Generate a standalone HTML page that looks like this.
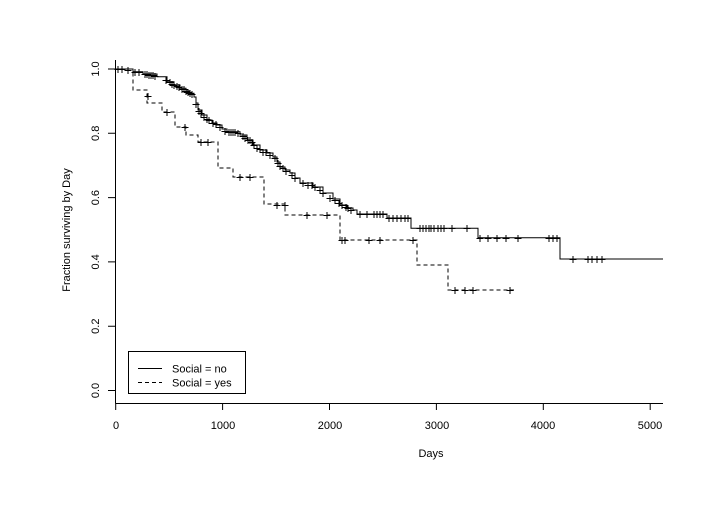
<!DOCTYPE html>
<html><head><style>
html,body{margin:0;padding:0;background:#fff;}
svg{display:block;font-family:"Liberation Sans",sans-serif;}
</style></head><body>
<svg width="723" height="522" viewBox="0 0 723 522" xmlns="http://www.w3.org/2000/svg">
<rect width="723" height="522" fill="#fff"/>
<g stroke="#000" stroke-width="1" fill="none">
<line x1="115.5" y1="60" x2="115.5" y2="403.5"/>
<line x1="115.5" y1="403.5" x2="663" y2="403.5"/>
<path d="M108,69H115.5M108,133.3H115.5M108,197.6H115.5M108,261.9H115.5M108,326.2H115.5M108,390.5H115.5"/>
<path d="M115.7,403.5V410M222.6,403.5V410M329.5,403.5V410M436.4,403.5V410M543.3,403.5V410M650.2,403.5V410"/>
</g>
<g font-size="11" fill="#000" text-anchor="middle">
<text x="116" y="429">0</text><text x="223" y="429">1000</text><text x="330" y="429">2000</text>
<text x="437" y="429">3000</text><text x="543" y="429">4000</text><text x="650" y="429">5000</text>
<text x="431" y="457">Days</text>
<text transform="translate(99,69) rotate(-90)">1.0</text>
<text transform="translate(99,133.3) rotate(-90)">0.8</text>
<text transform="translate(99,197.6) rotate(-90)">0.6</text>
<text transform="translate(99,261.9) rotate(-90)">0.4</text>
<text transform="translate(99,326.2) rotate(-90)">0.2</text>
<text transform="translate(99,390.5) rotate(-90)">0.0</text>
<text transform="translate(70,230) rotate(-90)">Fraction surviving by Day</text>
</g>
<path fill="none" stroke="#000" stroke-width="1" d="M115.5,69H133V71.7H143V74H157V76.7H167V81.7H174V85H180V88.3H186V91H190V93.3H194V97H196V103H198V110H202V115H207V120H212V123H217V125H222V129H227V131.7H240V135H247V140H253V145H260V150H267V153H273V157H277V162H280V167H285V170H290V173H295V178H300V183H313V187H323V193H333V199H340V205H347V208H353V210H357V214H387V218H411V228.3H478V237.7H560V259H663"/>
<path fill="none" stroke="#000" stroke-width="1" stroke-dasharray="4,3" d="M115.5,69H133V90H147V103H162V112H175V127H186V135H198V142H218V168H233V177H264V204H285V215H340V240H417V265H448V290H514"/>
<path fill="none" stroke="#000" stroke-width="1" d="
M118,66v7M122,66v7M128,67v7M135,69v7M139,69v7M145,71v7M147,71v7M149,72v7M151,72v7M153,72v7M155,73v7M166,77v7M170,79v7M172,81v7M174,82v7M177,83v7M179,84v7M182,86v7M184,86v7M186,88v7M188,89v7M190,90v7M192,91v7M196,101v7M199,108v7M201,110v7M204,114v7M207,116v7M209,117v7M213,120v7M216,121v7M220,124v7M225,128v7M229,129v7M231,129v7M233,129v7M235,129v7M238,130v7M243,133v7M245,135v7M248,137v7M250,137v7M252,139v7M254,142v7M257,145v7M260,146v7M263,149v7M266,149v7M270,152v7M275,155v7M278,160v7M280,163v7M283,165v7M286,168v7M292,172v7M295,175v7M303,180v7M308,182v7M312,182v7M315,184v7M320,187v7M323,190v7M330,195v7M335,197v7M339,200v7M342,202v7M346,204v7M348,205v7M351,207v7M360,211v7M367,211v7M374,211v7M377,211v7M380,211v7M383,211v7M389,215v7M393,215v7M397,215v7M401,215v7M405,215v7M408,215v7M420,225v7M423,225v7M426,225v7M429,225v7M431,225v7M434,225v7M438,225v7M441,225v7M444,225v7M452,225v7M467,225v7M480,235v7M488,235v7M497,235v7M506,235v7M518,235v7M549,235v7M553,235v7M557,235v7M573,256v7M588,256v7M592,256v7M597,256v7M602,256v7
M148,93v7M167,109v7M185,124v7M201,139v7M208,139v7M240,174v7M250,174v7M277,202v7M285,202v7M307,212v7M327,212v7M342,237v7M345,237v7M369,237v7M380,237v7M413,237v7M455,287v7M465,287v7M473,287v7M510,287v7
"/>
<g stroke="#000" stroke-width="1" fill="none">
<path d="M114.5,69.5h7M118.5,69.5h7M124.5,70.5h7M131.5,72.5h7M135.5,72.5h7M141.5,74.5h7M143.5,74.5h7M145.5,75.5h7M147.5,75.5h7M149.5,75.5h7M151.5,76.5h7M162.5,80.5h7M166.5,82.5h7M168.5,84.5h7M170.5,85.5h7M173.5,86.5h7M175.5,87.5h7M178.5,89.5h7M180.5,89.5h7M182.5,91.5h7M184.5,92.5h7M186.5,93.5h7M188.5,94.5h7M192.5,104.5h7M195.5,111.5h7M197.5,113.5h7M200.5,117.5h7M203.5,119.5h7M205.5,120.5h7M209.5,123.5h7M212.5,124.5h7M216.5,127.5h7M221.5,131.5h7M225.5,132.5h7M227.5,132.5h7M229.5,132.5h7M231.5,132.5h7M234.5,133.5h7M239.5,136.5h7M241.5,138.5h7M244.5,140.5h7M246.5,140.5h7M248.5,142.5h7M250.5,145.5h7M253.5,148.5h7M256.5,149.5h7M259.5,152.5h7M262.5,152.5h7M266.5,155.5h7M271.5,158.5h7M274.5,163.5h7M276.5,166.5h7M279.5,168.5h7M282.5,171.5h7M288.5,175.5h7M291.5,178.5h7M299.5,183.5h7M304.5,185.5h7M308.5,185.5h7M311.5,187.5h7M316.5,190.5h7M319.5,193.5h7M326.5,198.5h7M331.5,200.5h7M335.5,203.5h7M338.5,205.5h7M342.5,207.5h7M344.5,208.5h7M347.5,210.5h7M356.5,214.5h7M363.5,214.5h7M370.5,214.5h7M373.5,214.5h7M376.5,214.5h7M379.5,214.5h7M385.5,218.5h7M389.5,218.5h7M393.5,218.5h7M397.5,218.5h7M401.5,218.5h7M404.5,218.5h7M416.5,228.5h7M419.5,228.5h7M422.5,228.5h7M425.5,228.5h7M427.5,228.5h7M430.5,228.5h7M434.5,228.5h7M437.5,228.5h7M440.5,228.5h7M448.5,228.5h7M463.5,228.5h7M476.5,238.5h7M484.5,238.5h7M493.5,238.5h7M502.5,238.5h7M514.5,238.5h7M545.5,238.5h7M549.5,238.5h7M553.5,238.5h7M569.5,259.5h7M584.5,259.5h7M588.5,259.5h7M593.5,259.5h7M598.5,259.5h7
M144.5,96.5h7M163.5,112.5h7M181.5,127.5h7M197.5,142.5h7M204.5,142.5h7M236.5,177.5h7M246.5,177.5h7M273.5,205.5h7M281.5,205.5h7M303.5,215.5h7M323.5,215.5h7M338.5,240.5h7M341.5,240.5h7M365.5,240.5h7M376.5,240.5h7M409.5,240.5h7M451.5,290.5h7M461.5,290.5h7M469.5,290.5h7M506.5,290.5h7"/>
</g>
<rect x="128.5" y="351.5" width="117" height="42" fill="#fff" stroke="#000" stroke-width="1"/>
<line x1="138" y1="368.5" x2="162" y2="368.5" stroke="#000"/>
<line x1="138" y1="382.5" x2="162" y2="382.5" stroke="#000" stroke-dasharray="4,3"/>
<g font-size="11" fill="#000">
<text x="172" y="372.5">Social = no</text>
<text x="172" y="386.5">Social = yes</text>
</g>
</svg>
</body></html>
